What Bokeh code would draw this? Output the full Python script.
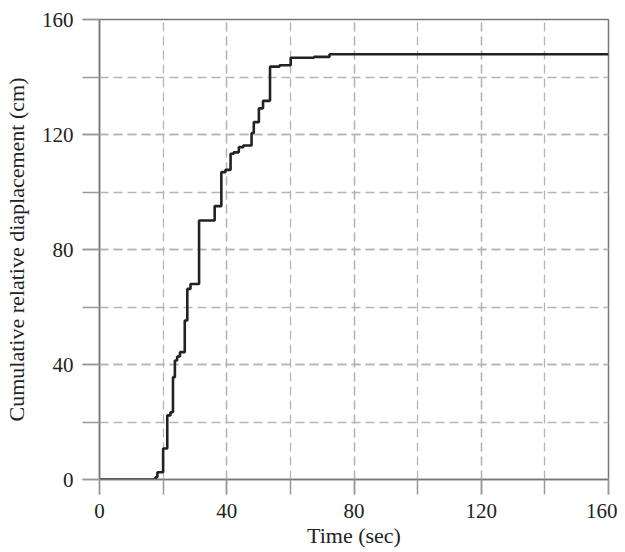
from bokeh.plotting import figure
from bokeh.models import Range1d, SingleIntervalTicker
from bokeh.embed import file_html
from bokeh.resources import INLINE

# Step change times (sec) and cumulative relative displacement (cm) after each step
time_sec = [0, 17.6, 18.2, 20.0, 21.3, 22.3, 23.1, 23.7, 24.4, 25.3, 26.8, 27.6, 28.6,
            31.3, 36.2, 38.3, 39.6, 41.2, 42.2, 43.8, 45.2, 47.8, 48.5, 50.1, 51.4,
            53.6, 56.6, 60.1, 67.4, 72.3, 160]
displacement_cm = [0, 0.8, 2.5, 10.8, 22.3, 23.4, 35.6, 41.4, 42.8, 44.3, 55.3, 66.3, 68.0,
                   90.1, 95.1, 106.9, 107.7, 113.3, 113.8, 115.6, 116.2, 120.5, 124.3, 129.1, 131.7,
                   143.6, 144.1, 146.7, 147.0, 147.9, 147.9]

x_label = "Time (sec)"
y_label = "Cumulative relative diaplacement (cm)"

FONT = "Liberation Serif"
AXIS_COLOR = "#777777"
GRID_COLOR = "#b5b5b5"

p = figure(width=617, height=552, output_backend="svg", toolbar_location=None,
           x_range=Range1d(0, 160), y_range=Range1d(0, 160),
           min_border_left=99, min_border_right=9, min_border_top=19, min_border_bottom=73)

p.step(time_sec, displacement_cm, mode="after", line_color="#222222", line_width=2.6)

p.outline_line_color = AXIS_COLOR
p.outline_line_width = 1.5
p.background_fill_color = "white"
p.border_fill_color = "white"

for ax in (p.xaxis[0], p.yaxis[0]):
    ax.ticker = SingleIntervalTicker(interval=40, num_minor_ticks=2)
    ax.axis_line_color = AXIS_COLOR
    ax.axis_line_width = 1.5
    ax.major_tick_line_color = "#999999"
    ax.minor_tick_line_color = "#999999"
    ax.major_tick_line_width = 1.5
    ax.minor_tick_line_width = 1.5
    ax.major_tick_in = 0
    ax.minor_tick_in = 0
    ax.major_label_text_font = FONT
    ax.major_label_text_font_size = "21px"
    ax.major_label_text_color = "#222222"
    ax.axis_label_text_font = FONT
    ax.axis_label_text_font_size = "22px"
    ax.axis_label_text_font_style = "normal"
    ax.axis_label_text_color = "#222222"

p.xaxis[0].major_tick_out = 15
p.xaxis[0].minor_tick_out = 15
p.yaxis[0].major_tick_out = 17
p.yaxis[0].minor_tick_out = 17

p.xaxis[0].axis_label = x_label
p.yaxis[0].axis_label = y_label
p.xaxis[0].major_label_standoff = 9
p.yaxis[0].major_label_standoff = 9
p.xaxis[0].axis_label_standoff = 2
p.yaxis[0].axis_label_standoff = 10

for g in (p.xgrid[0], p.ygrid[0]):
    g.ticker = SingleIntervalTicker(interval=40, num_minor_ticks=2)
    g.grid_line_color = GRID_COLOR
    g.grid_line_dash = "9 5"
    g.grid_line_width = 1.3
    g.minor_grid_line_color = GRID_COLOR
    g.minor_grid_line_dash = "9 5"
    g.minor_grid_line_width = 1.3

open("out.html", "w").write(file_html(p, INLINE))
